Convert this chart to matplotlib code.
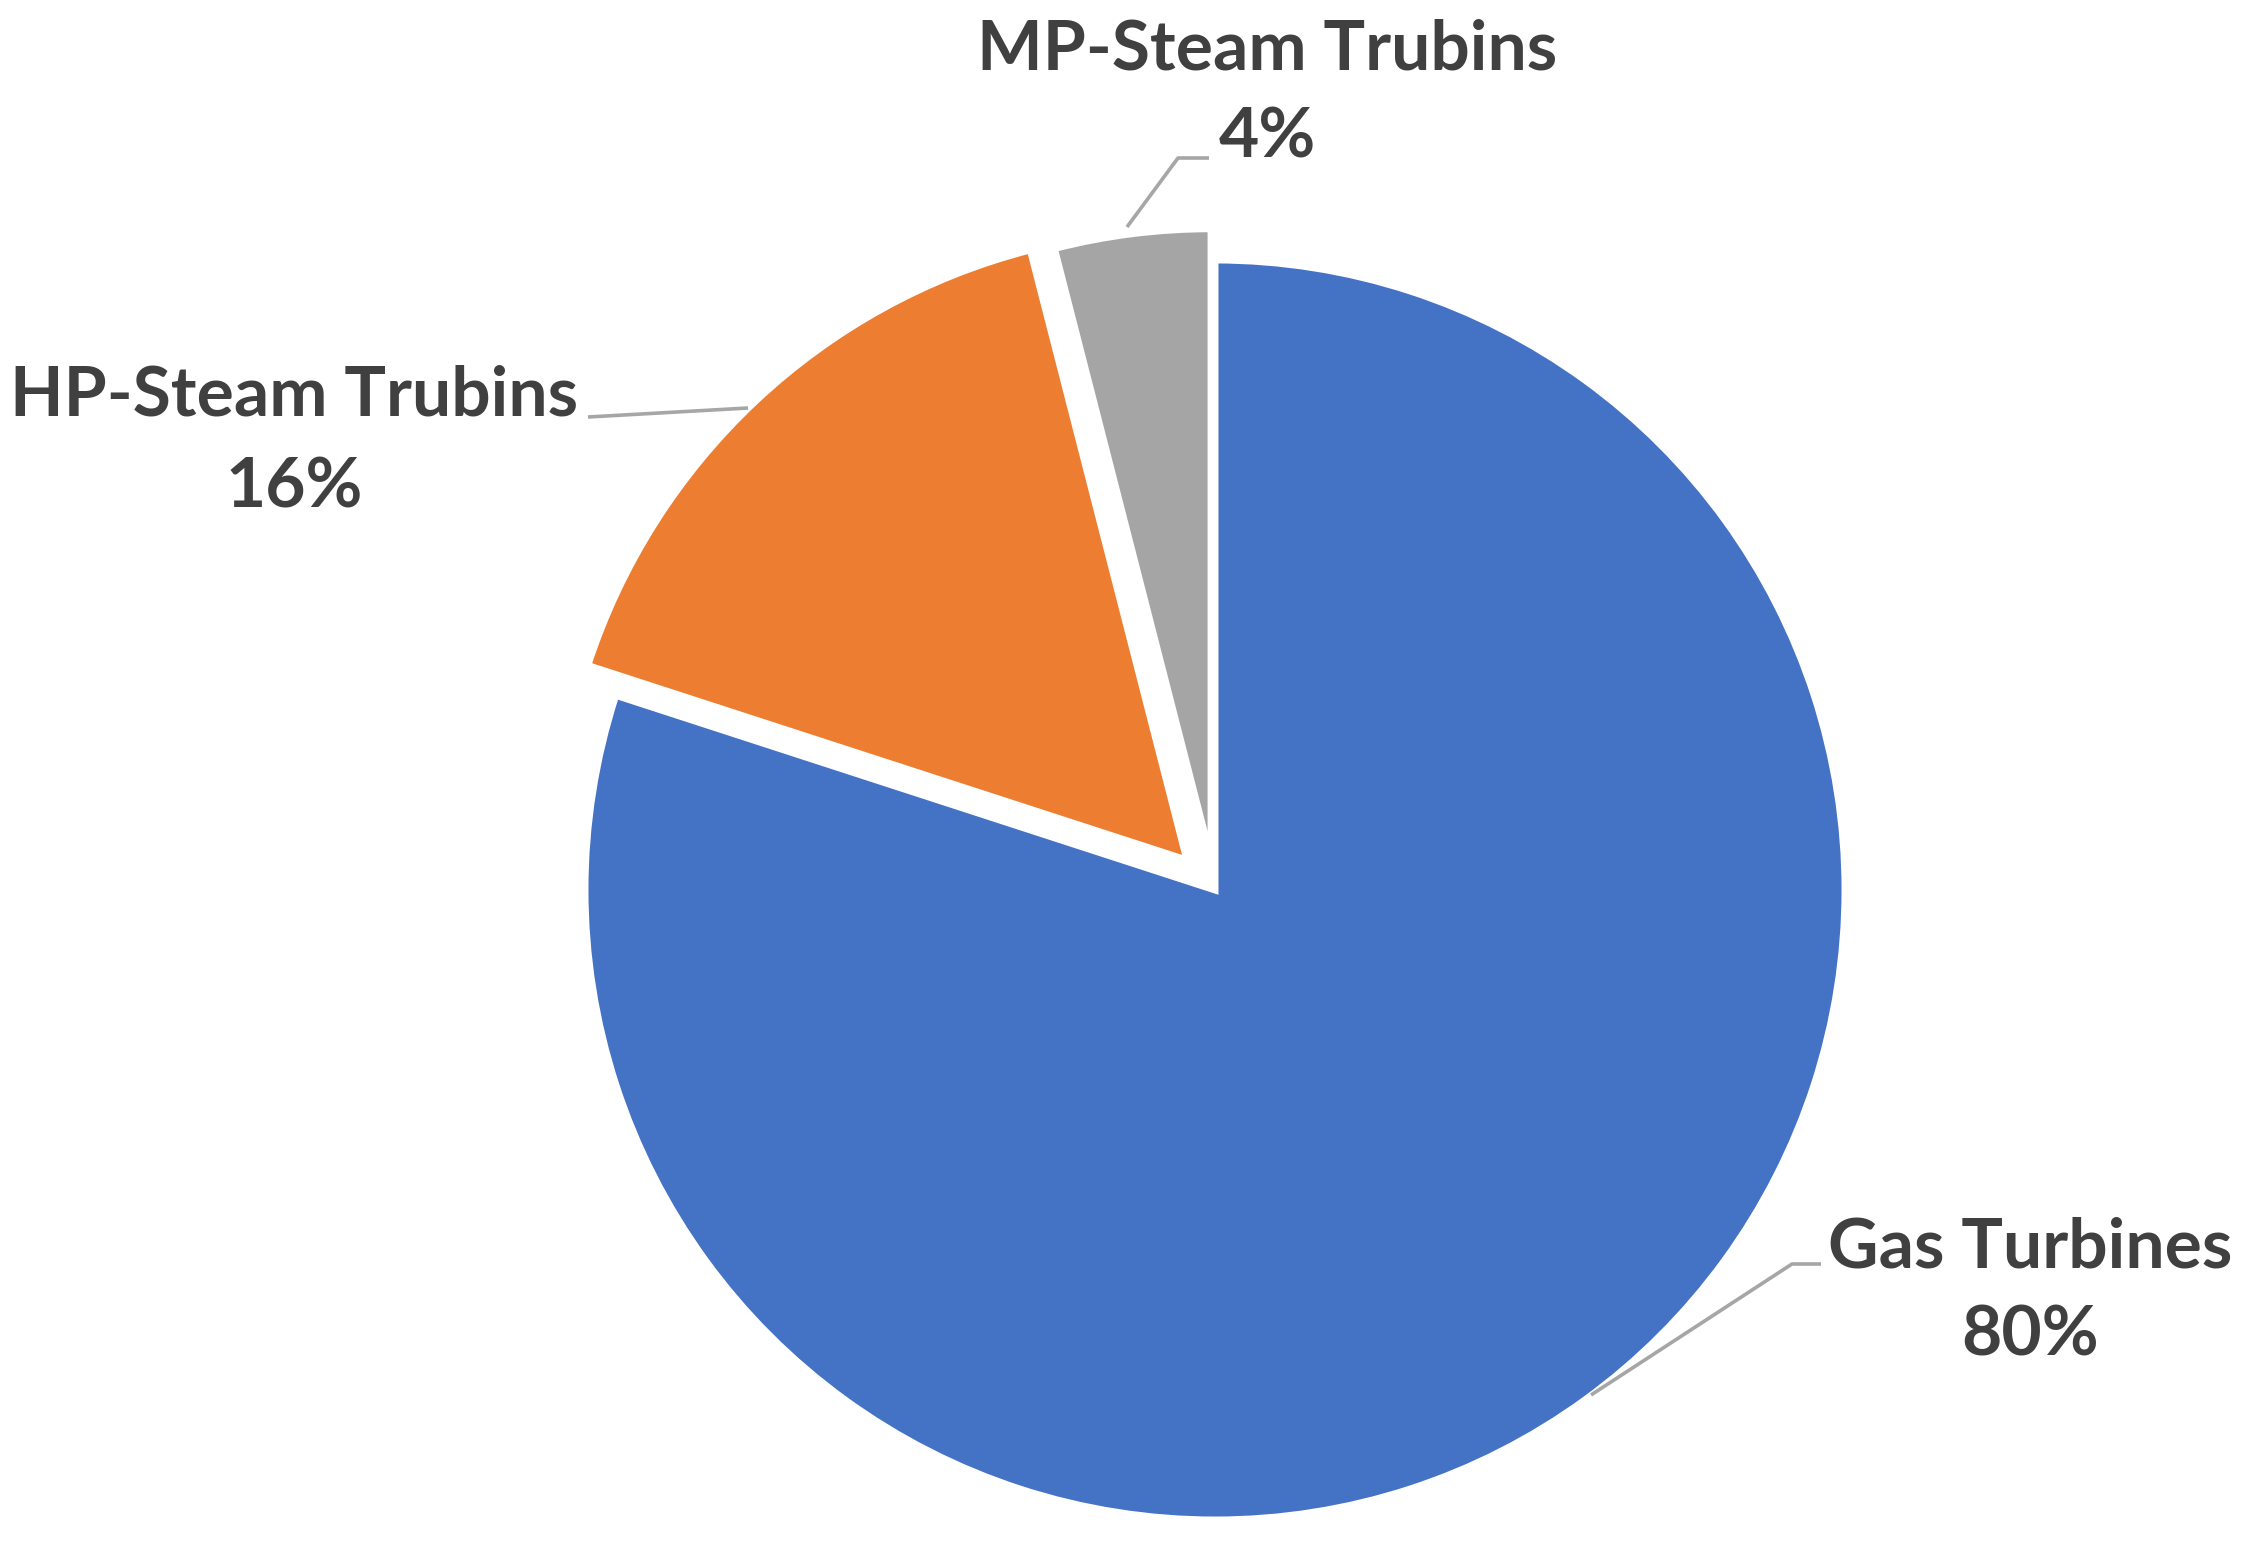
import matplotlib.pyplot as plt

# data
labels = ["Gas Turbines", "HP-Steam Trubins", "MP-Steam Trubins"]
shares = [80, 16, 4]
colors = ["#4472C4", "#ED7D31", "#A5A5A5"]
explode = [0.0, 0.065, 0.05]

W, H = 2248, 1546
R = 630
fig = plt.figure(figsize=(W / 100, H / 100), dpi=100)
ax = fig.add_axes([0, 0, 1, 1])

# axes in pixel units (y measured from the bottom); pie explode is in data units
ax.pie(shares, colors=colors, explode=[e * R for e in explode], startangle=90,
       counterclock=False, center=(1215, 656), radius=R,
       wedgeprops=dict(edgecolor="white", linewidth=5))
ax.set_xlim(0, W)
ax.set_ylim(0, H)
ax.axis("off")

txt = dict(fontsize=50, fontweight="bold", color="#404040", ha="center",
           va="baseline", family=["Lato", "DejaVu Sans"])
line = dict(color="#A6A6A6", lw=2.6, solid_capstyle="butt")

# label text + percentages
ax.text(1267, 1477, labels[2], **txt)
ax.text(1267, 1388, "%d%%" % shares[2], **txt)
ax.plot([1127, 1178, 1209], [1319, 1388, 1388], **line)

ax.text(294, 1130, labels[1], **txt)
ax.text(294, 1038, "%d%%" % shares[1], **txt)
ax.plot([748, 588], [1138, 1129], **line)

ax.text(2030, 279, labels[0], **txt)
ax.text(2030, 190, "%d%%" % shares[0], **txt)
ax.plot([1591, 1792, 1821], [151, 282, 282], **line)

fig.savefig("out.png", dpi=100)
